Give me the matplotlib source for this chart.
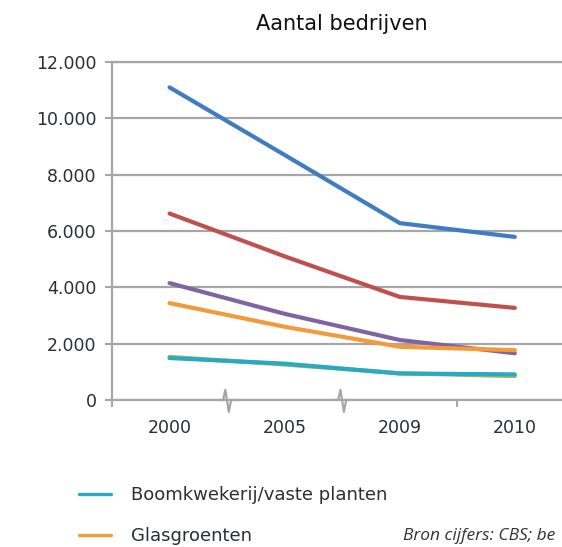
import numpy as np
import matplotlib
matplotlib.use("Agg")
import matplotlib.pyplot as plt
from matplotlib.transforms import blended_transform_factory

# data (number of companies)
years = ["2000", "2005", "2009", "2010"]
series_names = ["Bloembollen", "Potplanten", "Fruitteelt", "Snijbloemen",
                "Boomkwekerij/vaste planten", "Glasgroenten"]
blue = [11100, 8700, 6280, 5790]
red = [6620, 5100, 3660, 3270]
green = [1530, 1260, 950, 850]
purple = [4150, 3060, 2130, 1660]
cyan = [1490, 1290, 940, 910]
orange = [3440, 2600, 1890, 1770]
yticks = [0, 2000, 4000, 6000, 8000, 10000, 12000]
ytick_labels = ["0", "2.000", "4.000", "6.000", "8.000", "10.000", "12.000"]

colors = {"blue": "#3f7dc1", "red": "#c0504d", "green": "#9bbb59",
          "purple": "#8064a2", "cyan": "#2aa9c4", "orange": "#f39a3a"}
grid_c = "#a6a6a6"
text_c = "#2b2f33"

fig = plt.figure(figsize=(5.62, 5.47), dpi=100)
ax = fig.add_axes([112/562, 1 - 400/547, 1 - 112/562, 338/547])

x = np.arange(len(years))
lw = 3.0
ax.plot(x, blue, color=colors["blue"], lw=lw, solid_capstyle="round", zorder=3)
ax.plot(x, red, color=colors["red"], lw=lw, solid_capstyle="round", zorder=3)
ax.plot(x, green, color=colors["green"], lw=lw, solid_capstyle="round", zorder=3)
ax.plot(x, purple, color=colors["purple"], lw=lw, solid_capstyle="round", zorder=3)
l_cyan, = ax.plot(x, cyan, color=colors["cyan"], lw=lw, solid_capstyle="round", zorder=4)
l_orange, = ax.plot(x, orange, color=colors["orange"], lw=lw, solid_capstyle="round", zorder=3)

ax.set_yticks(yticks)
ax.set_yticklabels(ytick_labels)
ax.set_xticks(x)
ax.set_xticklabels(years)
ax.set_xticks([-0.5, 2.5, 3.5], minor=True)
ax.set_xlim(-0.5, 3.41)
ax.set_ylim(0, 12000)
ax.tick_params(axis="x", which="major", length=0, pad=14, labelsize=12.5, labelcolor=text_c)
ax.tick_params(axis="x", which="minor", length=5, width=1.5, color=grid_c, direction="out")
ax.tick_params(axis="y", length=5, width=1.5, color=grid_c, pad=6, labelsize=12.5, labelcolor=text_c)
ax.yaxis.grid(True, color=grid_c, lw=1.6)
ax.set_axisbelow(True)
ax.spines["right"].set_visible(False)
for side in ["left", "bottom", "top"]:
    ax.spines[side].set_color(grid_c)
    ax.spines[side].set_linewidth(1.6)

# axis break marks between 2000-2005 and 2005-2009
tr = blended_transform_factory(ax.transData, ax.transAxes)
for xb in [0.5, 1.5]:
    ax.plot([xb - 0.06, xb - 0.035, xb - 0.015, xb + 0.015, xb + 0.035, xb + 0.06],
            [0, 0, 0.03, -0.035, 0, 0], color=grid_c, lw=1.6,
            transform=tr, clip_on=False, zorder=5)

fig.text(342/562, 1 - 24/547, "Aantal bedrijven", ha="center", va="center",
         fontsize=15, color="#111111")

leg = fig.legend([l_cyan, l_orange], series_names[4:], loc="upper left",
                 bbox_to_anchor=(68/562, 1 - 475/547), frameon=False,
                 fontsize=13, handlelength=1.8, handletextpad=1.1, labelspacing=1.3,
                 labelcolor=text_c, borderaxespad=0.2)
for ln in leg.get_lines():
    ln.set_linewidth(2.4)

fig.text(403/562, 1 - 536/547, "Bron cijfers: CBS; be", ha="left", va="center",
         fontsize=12.5, style="italic", family="Open Sans", color="#333333")

fig.savefig("out.png", dpi=100)
